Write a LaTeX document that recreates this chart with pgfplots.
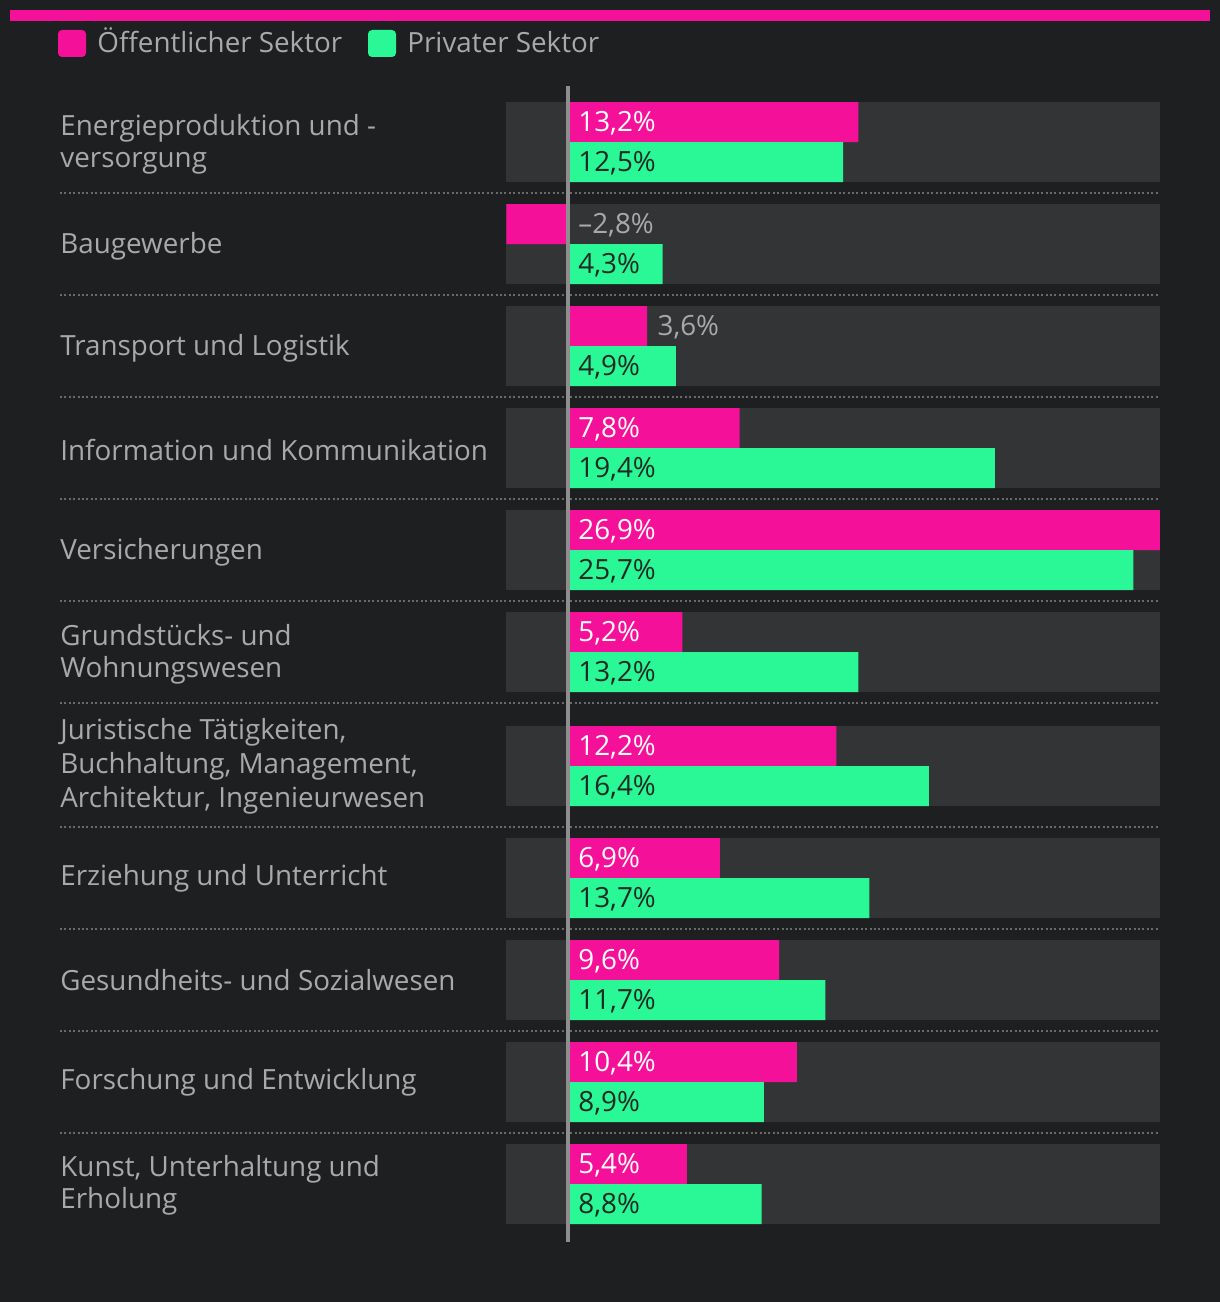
\documentclass[border=0pt]{standalone}
\usepackage{fontspec}
\setmainfont{Open Sans}
\usepackage{pgfplots}
\pgfplotsset{compat=1.18}
\definecolor{bg}{HTML}{1E1F21}
\definecolor{panel}{HTML}{333436}
\definecolor{pinkc}{HTML}{F5109A}
\definecolor{greenc}{HTML}{2AF795}
\definecolor{lab}{HTML}{A9A9A9}
\definecolor{darktxt}{HTML}{1F2A24}
\definecolor{zline}{HTML}{8E8E8E}
\definecolor{sep}{HTML}{6A6A6A}
\newcommand{\fs}{\fontsize{13.9}{16}\selectfont}
\begin{document}
\begin{tikzpicture}
\fill[bg] (0,0) rectangle (610pt,651pt);
\begin{scope}[x=0.5pt,y=-0.5pt,shift={(0pt,651pt)}]
% top bar
\fill[pinkc] (10,10) rectangle (1210,21);
% legend
\fill[pinkc,rounded corners=2pt] (58,30) rectangle (86,57);
\node[anchor=base west,text=lab,inner sep=0pt,font=\fs] at (97,53) {Öffentlicher Sektor};
\fill[greenc,rounded corners=2pt] (368,30) rectangle (396,57);
\node[anchor=base west,text=lab,inner sep=0pt,font=\fs] at (407,53) {Privater Sektor};
% panels
\foreach \t in {102,204,306,408,510,612,726,838,940,1042,1144}
  \fill[panel] (506,\t) rectangle (1160,\t+80);
% separators
\foreach \s in {193,295,397,499,601,703,827,929,1031,1133}
  \draw[sep,line width=1pt,dash pattern=on 1pt off 1.2pt] (60,\s) -- (1160,\s);
% category labels
\tikzset{cat/.style={anchor=west,text=lab,inner sep=0pt,align=left,font=\fs}}
\node[cat] at (60,144) {Energieproduktion und -\\versorgung};
\node[cat] at (60,246) {Baugewerbe};
\node[cat] at (60,348) {Transport und Logistik};
\node[cat] at (60,450) {Information und Kommunikation};
\node[cat] at (60,552) {Versicherungen};
\node[cat] at (60,654) {Grundstücks- und\\Wohnungswesen};
\node[cat,font=\fontsize{13.9}{17}\selectfont] at (60,766) {Juristische Tätigkeiten,\\Buchhaltung, Management,\\Architektur, Ingenieurwesen};
\node[cat] at (60,878) {Erziehung und Unterricht};
\node[cat] at (60,980) {Gesundheits- und Sozialwesen};
\node[cat] at (60,1082) {Forschung und Entwicklung};
\node[cat] at (60,1185) {Kunst, Unterhaltung und\\Erholung};
\end{scope}
\begin{axis}[
  width=610pt, height=651pt, scale only axis,
  hide axis, clip=false,
  xmin=-25.818, xmax=29.636,
  ymin=0, ymax=1302, y dir=reverse,
  xbar, bar width=40, bar shift=0,
]
\addplot[fill=pinkc,draw=none] coordinates {
 (13.2,122) (-2.8,224) (3.6,326) (7.8,428) (26.9,530) (5.2,632) (12.2,746) (6.9,858) (9.6,960) (10.4,1062) (5.4,1164)
};
\addplot[fill=greenc,draw=none] coordinates {
 (12.5,162) (4.3,264) (4.9,366) (19.4,468) (25.7,570) (13.2,672) (16.4,786) (13.7,898) (11.7,1000) (8.9,1102) (8.8,1204)
};
\draw[zline,line width=2pt] (axis cs:0,86) -- (axis cs:0,1242);
\tikzset{pv/.style={anchor=west,text=white,inner sep=0pt,font=\fs},
         gv/.style={anchor=west,text=darktxt,inner sep=0pt,font=\fs},
         ov/.style={anchor=west,text=lab,inner sep=0pt,font=\fs}}
\node[pv] at (axis cs:0.4545,123) {13,2\%};
\node[ov] at (axis cs:0.4545,225) {\textendash2,8\%};
\node[ov] at (axis cs:4.0545,327) {3,6\%};
\node[pv] at (axis cs:0.4545,429) {7,8\%};
\node[pv] at (axis cs:0.4545,531) {26,9\%};
\node[pv] at (axis cs:0.4545,633) {5,2\%};
\node[pv] at (axis cs:0.4545,747) {12,2\%};
\node[pv] at (axis cs:0.4545,859) {6,9\%};
\node[pv] at (axis cs:0.4545,961) {9,6\%};
\node[pv] at (axis cs:0.4545,1063) {10,4\%};
\node[pv] at (axis cs:0.4545,1165) {5,4\%};
\node[gv] at (axis cs:0.4545,163) {12,5\%};
\node[gv] at (axis cs:0.4545,265) {4,3\%};
\node[gv] at (axis cs:0.4545,367) {4,9\%};
\node[gv] at (axis cs:0.4545,469) {19,4\%};
\node[gv] at (axis cs:0.4545,571) {25,7\%};
\node[gv] at (axis cs:0.4545,673) {13,2\%};
\node[gv] at (axis cs:0.4545,787) {16,4\%};
\node[gv] at (axis cs:0.4545,899) {13,7\%};
\node[gv] at (axis cs:0.4545,1001) {11,7\%};
\node[gv] at (axis cs:0.4545,1103) {8,9\%};
\node[gv] at (axis cs:0.4545,1205) {8,8\%};
\end{axis}
\end{tikzpicture}
\end{document}
